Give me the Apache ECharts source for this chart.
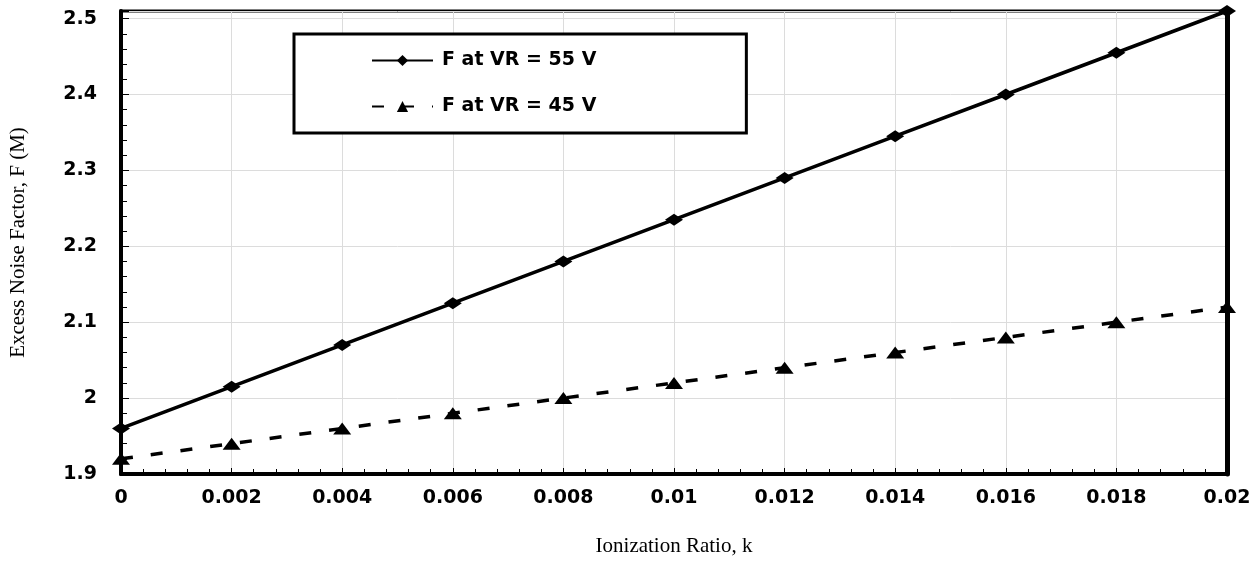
<!DOCTYPE html>
<html>
<head>
<meta charset="utf-8">
<script src="https://cdn.jsdelivr.net/npm/echarts@6/dist/echarts.min.js"></script>
<style>html,body{margin:0;padding:0;background:#fff;}#c{width:1260px;height:562px;}</style>
</head>
<body>
<div id="c"></div>
<script>
const kValues = [0, 0.002, 0.004, 0.006, 0.008, 0.01, 0.012, 0.014, 0.016, 0.018, 0.02];
const f55 = [1.96, 2.015, 2.07, 2.125, 2.18, 2.235, 2.29, 2.345, 2.40, 2.455, 2.51];
const f45 = [1.92, 1.94, 1.96, 1.98, 2.00, 2.02, 2.04, 2.06, 2.08, 2.10, 2.12];
const seriesNames = ['F at VR = 55 V', 'F at VR = 45 V'];
const xTitle = 'Ionization Ratio, k';
const yTitle = 'Excess Noise Factor, F (M)';

const chart = echarts.init(document.getElementById('c'), null, {renderer: 'canvas'});
const boldFont = 'DejaVu Sans';
const serifFont = 'Liberation Serif';

chart.setOption({
  animation: false,
  backgroundColor: '#fff',
  grid: {left: 117, right: 33, top: 11, bottom: 88, show: true, borderColor: '#000', borderWidth: 3},
  legend: {
    orient: 'vertical',
    left: 294, top: 34,
    padding: [17, 150, 17, 77],
    itemWidth: 61, itemHeight: 14, itemGap: 27,
    borderColor: '#000', borderWidth: 3, backgroundColor: '#fff',
    textStyle: {fontFamily: boldFont, fontWeight: 'bold', fontSize: 19, color: '#000', padding: [0, 0, 0, 4]},
    data: seriesNames
  },
  xAxis: {
    type: 'value', min: 0, max: 0.02, interval: 0.002,
    name: xTitle, nameLocation: 'middle', nameGap: 62,
    nameTextStyle: {fontFamily: serifFont, fontSize: 21, color: '#000'},
    axisLine: {show: true, lineStyle: {color: '#000', width: 4}},
    axisTick: {show: true, inside: true, length: 6, lineStyle: {color: '#000', width: 1}},
    minorTick: {show: true, splitNumber: 5, length: 5, lineStyle: {color: '#000', width: 1}},
    axisLabel: {margin: 15, fontFamily: boldFont, fontWeight: 'bold', fontSize: 19, color: '#000',
      formatter: v => String(+v.toFixed(4))},
    splitLine: {show: true, lineStyle: {color: '#dcdcdc', width: 1}}
  },
  yAxis: [{
    type: 'value', min: 1.9, max: 2.51, interval: 0.1,
    name: yTitle, nameLocation: 'middle', nameGap: 92,
    nameTextStyle: {fontFamily: serifFont, fontSize: 21, color: '#000'},
    axisLine: {show: true, lineStyle: {color: '#000', width: 4}},
    axisTick: {show: true, inside: true, length: 8, lineStyle: {color: '#000', width: 1}},
    minorTick: {show: true, splitNumber: 5, length: 6, lineStyle: {color: '#000', width: 1}},
    axisLabel: {margin: 24, showMaxLabel: false, fontFamily: boldFont, fontWeight: 'bold', fontSize: 19, color: '#000',
      formatter: v => String(+v.toFixed(2))},
    splitLine: {show: true, lineStyle: {color: '#dcdcdc', width: 1}}
  }, {
    type: 'value', min: 1.9, max: 2.51, position: 'right',
    axisLine: {show: true, lineStyle: {color: '#000', width: 5}},
    axisTick: {show: false}, axisLabel: {show: false}, splitLine: {show: false}
  }],
  series: [{
    name: seriesNames[0], type: 'line',
    data: kValues.map((k, i) => [k, f55[i]]),
    lineStyle: {color: '#000', width: 3.5, type: 'solid'},
    itemStyle: {color: '#000'},
    symbol: 'diamond', symbolSize: [18, 12], showAllSymbol: true, z: 5
  }, {
    name: seriesNames[1], type: 'line',
    data: kValues.map((k, i) => [k, f45[i]]),
    lineStyle: {color: '#000', width: 3.5, type: [12, 18]},
    itemStyle: {color: '#000'},
    symbol: 'triangle', symbolSize: [18, 12], showAllSymbol: true, z: 5
  }]
});
</script>
</body>
</html>
